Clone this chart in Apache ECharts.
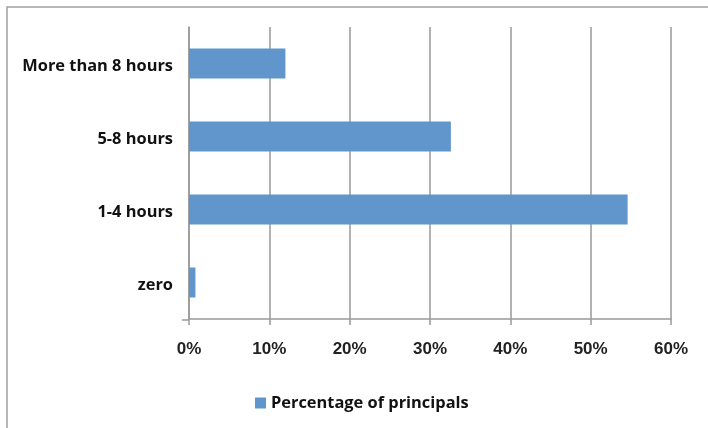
<!DOCTYPE html>
<html>
<head>
<meta charset="utf-8">
<script src="https://cdn.jsdelivr.net/npm/echarts@6/dist/echarts.min.js"></script>
<style>html,body{margin:0;padding:0;background:#fff;}#c{width:708px;height:428px;}</style>
</head>
<body>
<div id="c"></div>
<script>
const categories = ['zero', '1-4 hours', '5-8 hours', 'More than 8 hours'];
const seriesName = 'Percentage of principals';
const values = [0.8, 54.6, 32.6, 12.0];
const xTicks = [0, 10, 20, 30, 40, 50, 60];

const chart = echarts.init(document.getElementById('c'));
chart.setOption({
  animation: false,
  backgroundColor: '#fff',
  grid: { left: 189, right: 37, top: 27, bottom: 109, containLabel: false },
  legend: {
    data: [seriesName],
    left: 255, top: 395, padding: 0,
    itemWidth: 11, itemHeight: 11, itemGap: 5,
    icon: 'rect',
    textStyle: { fontFamily: 'Open Sans', fontWeight: 'bold', fontSize: 16.4, color: '#111' }
  },
  xAxis: {
    type: 'value', min: 0, max: 60, interval: 10,
    axisLine: { show: true, lineStyle: { color: '#999', width: 1.5 } },
    axisTick: { show: true, length: 6, lineStyle: { color: '#999', width: 1.5 } },
    splitLine: { show: true, lineStyle: { color: '#999', width: 1.5 } },
    axisLabel: {
      formatter: v => v + '%', margin: 22,
      fontFamily: 'Liberation Sans', fontWeight: 'bold', fontSize: 17, color: '#222'
    }
  },
  yAxis: {
    type: 'category', data: categories,
    axisLine: { show: true, lineStyle: { color: '#999', width: 1.5 } },
    axisTick: { show: false },
    axisLabel: {
      margin: 16,
      formatter: v => '{a|' + v + '}',
      rich: { a: { padding: [6, 0, 0, 0], fontFamily: 'Open Sans', fontWeight: 'bold', fontSize: 16.4, color: '#111' } }
    }
  },
  graphic: [
    { type: 'rect', shape: { x: 7, y: 7, width: 760, height: 480 }, style: { fill: 'none', stroke: '#a0a0a0', lineWidth: 1.5 }, silent: true },
    { type: 'line', shape: { x1: 182, y1: 320, x2: 189, y2: 320 }, style: { stroke: '#999', lineWidth: 1.5 }, silent: true }
  ],
  series: [{
    name: seriesName, type: 'bar', data: values, barWidth: 30,
    itemStyle: { color: '#6096CC' }
  }]
});
</script>
</body>
</html>
